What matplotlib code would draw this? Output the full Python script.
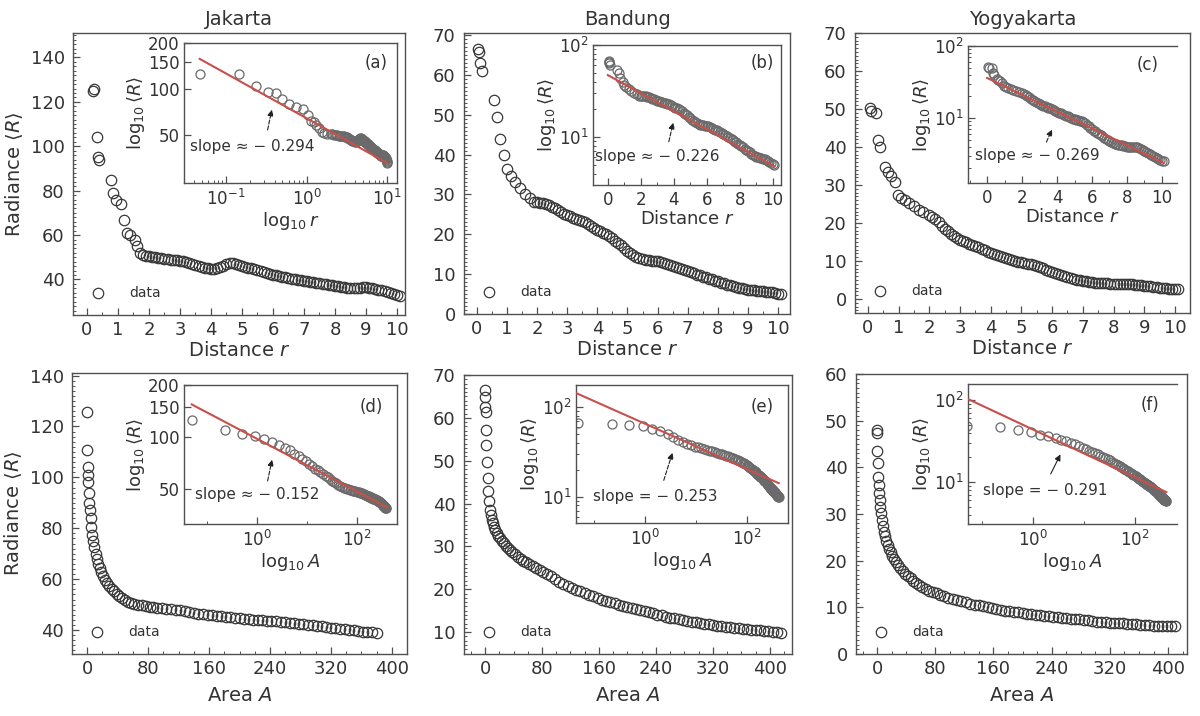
import numpy as np
import matplotlib
matplotlib.use("Agg")
import matplotlib.pyplot as plt
from matplotlib.ticker import (AutoMinorLocator, FixedLocator, NullLocator,
                               NullFormatter, FormatStrFormatter, LogLocator,
                               LogFormatterSciNotation, MultipleLocator)

W, H = 1200, 716
TXT = '#333333'
EDGE = '#505050'
RED = '#c8504b'

cities = ['Jakarta', 'Bandung', 'Yogyakarta']
letters_top = ['(a)', '(b)', '(c)']
letters_bot = ['(d)', '(e)', '(f)']

# sampling positions beyond r = 2 (same for the three cities)
r_tail = [2.0, 2.1, 2.2, 2.3, 2.4, 2.5, 2.6, 2.7, 2.8, 2.9,
          3.0, 3.1, 3.2, 3.3, 3.4, 3.5, 3.6, 3.7, 3.8, 3.9,
          4.0, 4.1, 4.2, 4.3, 4.4, 4.5, 4.6, 4.7, 4.8, 4.9,
          5.0, 5.1, 5.2, 5.3, 5.4, 5.5, 5.6, 5.7, 5.8, 5.9,
          6.0, 6.1, 6.2, 6.3, 6.4, 6.5, 6.6, 6.7, 6.8, 6.9,
          7.0, 7.1, 7.2, 7.3, 7.4, 7.5, 7.6, 7.7, 7.8, 7.9,
          8.0, 8.1, 8.2, 8.3, 8.4, 8.5, 8.6, 8.7, 8.8, 8.9,
          9.0, 9.1, 9.2, 9.3, 9.4, 9.5, 9.6, 9.7, 9.8, 9.9,
          10.0, 10.1]

# Jakarta, radiance vs distance
r_head_jkt = [0.2, 0.22, 0.31, 0.35, 0.39, 0.77, 0.85, 0.95, 1.09, 1.2,
              1.28, 1.4, 1.55, 1.63, 1.72, 1.82, 1.92]
R_head_jkt = [125, 126, 104, 95, 94, 85, 79, 76, 74, 67,
              61, 60, 58, 55, 52, 51, 50.5]
R_tail_jkt = [50.5, 50.2, 50, 49.8, 49.5, 49.2, 49, 48.9, 48.7, 48.6,
              48.5, 48.3, 48, 47.5, 47, 46.5, 46, 45.5, 45.2, 45,
              44.8, 44.8, 45, 45.4, 46, 46.8, 47.5, 47.4, 47, 46.5,
              46, 45.6, 45.3, 45, 44.6, 44.3, 44, 43.5, 43, 42.6,
              42.2, 41.8, 41.5, 41.2, 41, 40.7, 40.4, 40.1, 39.8, 39.6,
              39.4, 39.2, 39, 38.8, 38.5, 38.2, 38, 37.8, 37.6, 37.4,
              37.2, 37, 36.8, 36.5, 36.3, 36.1, 36, 36, 36.2, 36.4,
              36.5, 36.3, 36, 35.7, 35.4, 35.1, 34.8, 34.4, 34, 33.6,
              33.2, 32.5]
# the log-log inset (a) places the first points at these distances
r_inset_head_jkt = [0.047, 0.145, 0.235, 0.33, 0.42, 0.5, 0.61, 0.74, 0.9, 1.03,
                    1.12, 1.22, 1.32, 1.42, 1.54, 1.66, 1.8]

# Bandung, radiance vs distance
r_head_bdg = [0.04, 0.06, 0.1, 0.16, 0.58, 0.65, 0.76, 0.9, 1.01, 1.13,
              1.26, 1.43, 1.6, 1.76, 1.9]
R_head_bdg = [66.4, 65.8, 63, 61, 53.7, 49.3, 44, 40, 36.5, 34.5,
              33, 31.5, 30, 29, 28.2]
R_tail_bdg = [28, 27.9, 27.8, 27.6, 27.3, 26.9, 26.5, 26.0, 25.6, 25.2,
              24.9, 24.5, 24.2, 23.9, 23.6, 23.3, 23, 22.6, 22.2, 21.7,
              21.1, 20.8, 20.4, 20.0, 19.5, 19.0, 18.4, 17.8, 17.2, 16.5,
              15.9, 15.3, 14.8, 14.4, 14, 13.8, 13.6, 13.5, 13.4, 13.3,
              13.2, 13.0, 12.8, 12.5, 12.3, 12.0, 11.8, 11.5, 11.2, 11.0,
              10.7, 10.5, 10.2, 9.9, 9.7, 9.4, 9.2, 8.9, 8.7, 8.4,
              8.2, 7.9, 7.7, 7.4, 7.2, 7.0, 6.8, 6.6, 6.4, 6.2,
              6.1, 6.0, 5.9, 5.85, 5.8, 5.7, 5.6, 5.5, 5.4, 5.25,
              5.1, 5.0]

# Yogyakarta, radiance vs distance
r_head_ygy = [0.07, 0.09, 0.26, 0.33, 0.38, 0.55, 0.65, 0.76, 0.87, 0.98,
              1.09, 1.2, 1.35, 1.5, 1.65, 1.8]
R_head_ygy = [50.3, 49.5, 49, 41.8, 40, 34.8, 33.5, 32.3, 30.7, 27.4,
              26.6, 26, 25.3, 24.5, 23.5, 22.8]
R_tail_ygy = [22, 21.5, 21, 20.2, 19.3, 18.5, 17.8, 17.1, 16.5, 16.0,
              15.6, 15.2, 14.9, 14.5, 14.2, 13.9, 13.6, 13.2, 12.8, 12.4,
              12.1, 11.8, 11.6, 11.3, 11.1, 10.8, 10.6, 10.3, 10.1, 9.8,
              9.6, 9.4, 9.3, 9.2, 9.0, 8.8, 8.5, 8.1, 7.7, 7.3,
              7.0, 6.7, 6.5, 6.2, 6.0, 5.8, 5.6, 5.3, 5.1, 4.9,
              4.8, 4.6, 4.5, 4.4, 4.3, 4.25, 4.2, 4.15, 4.1, 4.05,
              4.0, 4.0, 4.0, 4.0, 4.0, 3.95, 3.9, 3.8, 3.7, 3.6,
              3.5, 3.4, 3.3, 3.2, 3.1, 3.0, 2.9, 2.8, 2.7, 2.6,
              2.5, 2.5]

# area sampling positions (same for the three cities)
A_grid = [0.05, 0.23, 0.5, 0.9, 1.4, 2.0, 2.8, 3.6, 4.5, 5.6,
          6.8, 8.0, 9.5, 11, 12.6, 14.5, 16.5, 18.6, 21, 23.5,
          26, 29, 32, 35, 38.5, 42,
          46, 50, 54, 58, 62, 67, 72, 77, 82, 87, 92,
          98, 104, 110, 116, 122, 128, 134, 140, 146, 152,
          158, 164, 170, 176, 182, 188, 194, 200, 206, 212,
          218, 224, 230, 236, 242, 248, 254, 260, 266, 272,
          278, 284, 290, 296, 302, 308, 314, 320, 326, 332,
          338, 344, 350, 356, 362, 368, 374, 380, 386, 392,
          398, 404, 410, 415]

R_area_jkt = [125.6, 110.6, 104, 101, 98, 94, 90, 87, 84, 80.5,
              77.5, 75, 72.5, 70, 68, 66, 64.3, 62.8, 61.2, 59.8,
              58.6, 57.3, 56.2, 55.2, 54.2, 53.3,
              52.5, 51.8, 51.2, 50.7, 50.3, 50.0, 49.7, 49.4, 49.1, 48.9, 48.7,
              48.5, 48.3, 48.1, 47.9, 47.7, 47.4, 47.1, 46.8, 46.5, 46.2,
              46.0, 45.8, 45.6, 45.4, 45.2, 45.0, 44.8, 44.6, 44.5, 44.3,
              44.1, 44.0, 43.8, 43.7, 43.5, 43.4, 43.2, 43.0, 42.9, 42.7,
              42.5, 42.3, 42.1, 41.9, 41.7, 41.5, 41.2, 41.0, 40.7, 40.5,
              40.3, 40.1, 39.9, 39.6, 39.4, 39.2, 39.1, 39.0]

R_area_bdg = [66.5, 64.9, 62.6, 61.4, 57.1, 53.6, 49.7, 46, 43, 40.5,
              38.5, 37.3, 36.2, 35.4, 34.6, 33.8, 33.1, 32.5, 31.9, 31.3,
              30.8, 30.2, 29.7, 29.2, 28.7, 28.2,
              27.6, 27.1, 26.7, 26.3, 25.9, 25.4, 24.9, 24.5, 24.0, 23.6, 23.2,
              22.3, 21.8, 21.3, 20.8, 20.3, 19.9, 19.5, 19.1, 18.7, 18.4,
              18.0, 17.6, 17.3, 17.0, 16.7, 16.4, 16.1, 15.9, 15.6, 15.4,
              15.1, 14.9, 14.6, 14.4, 14.1, 13.9, 13.6, 13.4, 13.2, 13.0,
              12.8, 12.6, 12.4, 12.3, 12.1, 11.9, 11.8, 11.7, 11.5, 11.4,
              11.3, 11.2, 11.0, 10.9, 10.8, 10.7, 10.6, 10.5, 10.4, 10.3,
              10.2, 10.1, 10.0, 9.9]

R_area_ygy = [48, 47.3, 43.4, 40.9, 38, 36.2, 34.5, 33, 31.6, 30.2,
              28.8, 27.4, 26.2, 25.2, 24.3, 23.4, 22.6, 21.8, 21.0, 20.3,
              19.7, 19.0, 18.4, 17.8, 17.2, 16.7,
              16.2, 15.7, 15.2, 14.8, 14.4, 14.0, 13.6, 13.3, 13.0, 12.7, 12.4,
              12.1, 11.8, 11.6, 11.3, 11.1, 10.8, 10.6, 10.4, 10.2, 10.0,
              9.8, 9.6, 9.45, 9.3, 9.15, 9.0, 8.9, 8.8, 8.65, 8.55,
              8.45, 8.3, 8.2, 8.1, 8.0, 7.9, 7.8, 7.7, 7.6, 7.5,
              7.4, 7.3, 7.2, 7.05, 6.95, 6.9, 6.8, 6.75, 6.7, 6.6,
              6.55, 6.5, 6.4, 6.35, 6.3, 6.2, 6.15, 6.1, 6.05, 6.0,
              6.0, 5.95, 5.9]

# fitted slopes and prefactors shown in the insets
slope_r = [-0.294, -0.226, -0.269]
pref_r = [64, 47, 36]
slope_A = [-0.152, -0.253, -0.291]
pref_A = [98, 65, 43.8]

r_dist = [r_head_jkt + r_tail, r_head_bdg + r_tail, r_head_ygy + r_tail]
R_dist = [R_head_jkt + R_tail_jkt, R_head_bdg + R_tail_bdg, R_head_ygy + R_tail_ygy]
r_inset = [r_inset_head_jkt + r_tail, r_dist[1], r_dist[2]]
R_area = [R_area_jkt, R_area_bdg, R_area_ygy]

plt.rcParams.update({
    'font.family': ['DejaVu Sans'],
    'text.color': TXT,
    'axes.labelcolor': TXT,
    'axes.edgecolor': EDGE,
    'xtick.color': EDGE,
    'ytick.color': EDGE,
    'xtick.labelcolor': TXT,
    'ytick.labelcolor': TXT,
    'axes.linewidth': 1.0,
})

fig = plt.figure(figsize=(W / 100, H / 100), dpi=100)


def box(l, t, r, b):
    return [l / W, 1 - b / H, (r - l) / W, (b - t) / H]


def style(ax, size, ypad=3):
    ax.tick_params(which='both', direction='in', labelsize=size)
    ax.tick_params(axis='x', which='both', pad=4)
    ax.tick_params(axis='y', which='both', pad=ypad)
    ax.tick_params(which='major', length=5, width=0.9)
    ax.tick_params(which='minor', length=2.5, width=0.7)


main_kw = dict(ls='none', marker='o', ms=7.5, mfc='none', mec='#383838', mew=0.9)
ins_kw = dict(ls='none', marker='o', ms=6.5, mfc='none', mec='#6a6a6a', mew=0.9)
leg_kw = dict(loc='lower left', frameon=False, fontsize=10, handlelength=1.5,
              handletextpad=1.5, borderaxespad=0.5, borderpad=0.55)

# ---------------- top row: radiance vs distance ----------------
main_top = [(73, 33, 405, 315), (464, 33, 790, 314), (855, 33, 1190, 313)]
xlim_top = [(-0.45, 10.26), (-0.43, 10.4), (-0.42, 10.49)]
ylim_top = [(24, 151), (0, 70.5), (-3.7, 70)]
ytick_top = [range(40, 141, 20), range(0, 71, 10), range(0, 71, 10)]

ins_top = [(184, 43, 397, 183), (593, 45, 781, 185), (968, 46, 1177, 183)]
ixlim_top = [(0.03, 13.3), (-0.9, 10.5), (-1.09, 10.86)]
iylim_top = [(24, 200), (3.0, 100), (1.25, 100)]
fit_x_top = [(0.047, 10.0), (0.0, 10.1), (0.0, 10.1)]
txt_top = [(0.03, 0.26), (0.01, 0.2), (0.035, 0.2)]
head_top = [(0.376, 76), (4.0, 15.3), (3.77, 7.5)]
tail_top = [(0.39, 0.36), (0.40, 0.29), (0.37, 0.28)]
let_top = [(0.9, 0.86), (0.9, 0.87), (0.86, 0.86)]

for i in range(3):
    ax = fig.add_axes(box(*main_top[i]))
    ax.plot(r_dist[i], R_dist[i], label='data', **main_kw)
    ax.set_xlim(*xlim_top[i])
    ax.set_ylim(*ylim_top[i])
    ax.set_xticks(range(0, 11))
    ax.set_yticks(list(ytick_top[i]))
    ax.xaxis.set_minor_locator(AutoMinorLocator(2))
    ax.yaxis.set_minor_locator(AutoMinorLocator(10))
    style(ax, 13, ypad=6)
    ax.set_xlabel('Distance $r$', fontsize=14, labelpad=2)
    if i == 0:
        ax.set_ylabel(r'Radiance $\langle R\rangle$', fontsize=14)
    ax.set_title(cities[i], fontsize=14, pad=6)
    ax.legend(**leg_kw)

    ia = fig.add_axes(box(*ins_top[i]))
    x0, x1 = fit_x_top[i]
    ia.set_yscale('log')
    ia.plot(r_inset[i], R_dist[i], **ins_kw)
    if i == 0:
        ia.set_xscale('log')
        ia.plot([x0, x1], [pref_r[i] * x0 ** slope_r[i], pref_r[i] * x1 ** slope_r[i]],
                color=RED, lw=1.5, zorder=3)
        ia.yaxis.set_major_locator(FixedLocator([50, 100, 150, 200]))
        ia.yaxis.set_major_formatter(FormatStrFormatter('%d'))
        ia.yaxis.set_minor_locator(NullLocator())
        ia.set_xlabel(r'$\log_{10}r$', fontsize=13, labelpad=1)
    else:
        ia.plot([x0, x1], [pref_r[i] * np.exp(slope_r[i] * x0), pref_r[i] * np.exp(slope_r[i] * x1)],
                color=RED, lw=1.5, zorder=3)
        ia.set_xticks(range(0, 11, 2))
        ia.xaxis.set_minor_locator(MultipleLocator(1))
        ia.yaxis.set_minor_formatter(NullFormatter())
        ia.set_xlabel('Distance $r$', fontsize=13, labelpad=1)
    ia.set_xlim(*ixlim_top[i])
    ia.set_ylim(*iylim_top[i])
    style(ia, 12)
    ia.set_ylabel(r'$\log_{10}\langle R\rangle$', fontsize=13, labelpad=1)
    if i == 2:
        ia.spines['right'].set_visible(False)
    ia.text(*txt_top[i], 'slope ≈ − %.3f' % (-slope_r[i]), transform=ia.transAxes,
            fontsize=11, ha='left', va='center')
    ia.annotate('', xy=head_top[i], xycoords='data', xytext=tail_top[i], textcoords='axes fraction',
                arrowprops=dict(arrowstyle='-|>', ls='--', lw=0.8, color='#222222', mutation_scale=9))
    ia.text(*let_top[i], letters_top[i], transform=ia.transAxes, fontsize=12,
            ha='center', va='center')

# ---------------- bottom row: radiance vs area ----------------
main_bot = [(72, 373, 407, 654), (464, 375, 792, 654), (856, 374, 1187, 654)]
xlim_bot = [(-20, 420), (-29.5, 431), (-29, 426)]
ylim_bot = [(30.6, 141), (4.9, 70), (0, 60)]
ytick_bot = [range(40, 141, 20), range(10, 71, 10), range(0, 61, 10)]

ins_bot = [(184, 385, 397, 524), (576, 385, 788, 523), (968, 384, 1177, 524)]
ixlim_bot = [(0.035, 630), (0.045, 630), (0.053, 670)]
iylim_bot = [(31.6, 200), (5.1, 175), (3.1, 157)]
fit_x_bot = [(0.05, 400), (0.045, 415), (0.053, 415)]
txt_bot = [(0.05, 0.21), (0.08, 0.19), (0.07, 0.24)]
head_bot = [(2.06, 77), (3.6, 33), (3.65, 23.4)]
tail_bot = [(0.39, 0.29), (0.41, 0.29), (0.39, 0.34)]
let_bot = [(0.88, 0.84), (0.88, 0.84), (0.87, 0.85)]
sign_bot = ['≈', '=', '=']
arrow_ls = ['--', '--', '-']

for i in range(3):
    A_vals = A_grid[:len(R_area[i])]
    ax = fig.add_axes(box(*main_bot[i]))
    ax.plot(A_vals, R_area[i], label='data', **main_kw)
    ax.set_xlim(*xlim_bot[i])
    ax.set_ylim(*ylim_bot[i])
    ax.set_xticks(range(0, 401, 80))
    ax.set_yticks(list(ytick_bot[i]))
    ax.xaxis.set_minor_locator(AutoMinorLocator(4))
    ax.yaxis.set_minor_locator(AutoMinorLocator(10))
    style(ax, 13, ypad=6)
    ax.set_xlabel('Area $A$', fontsize=14, labelpad=6)
    if i == 0:
        ax.set_ylabel(r'Radiance $\langle R\rangle$', fontsize=14)
    ax.legend(**leg_kw)

    ia = fig.add_axes(box(*ins_bot[i]))
    ia.set_xscale('log')
    ia.set_yscale('log')
    ia.plot(A_vals, R_area[i], **ins_kw)
    x0, x1 = fit_x_bot[i]
    ia.plot([x0, x1], [pref_A[i] * x0 ** slope_A[i], pref_A[i] * x1 ** slope_A[i]],
            color=RED, lw=1.5, zorder=3)
    ia.set_xlim(*ixlim_bot[i])
    ia.set_ylim(*iylim_bot[i])
    ia.xaxis.set_major_locator(FixedLocator([1, 100]))
    ia.xaxis.set_major_formatter(LogFormatterSciNotation())
    ia.xaxis.set_minor_locator(LogLocator(base=10, subs=(1.0,), numticks=20))
    ia.xaxis.set_minor_formatter(NullFormatter())
    if i == 0:
        ia.yaxis.set_major_locator(FixedLocator([50, 100, 150, 200]))
        ia.yaxis.set_major_formatter(FormatStrFormatter('%d'))
        ia.yaxis.set_minor_locator(NullLocator())
    else:
        ia.yaxis.set_minor_formatter(NullFormatter())
    style(ia, 12)
    ia.set_xlabel(r'$\log_{10}A$', fontsize=13, labelpad=1)
    ia.set_ylabel(r'$\log_{10}\langle R\rangle$', fontsize=13, labelpad=1)
    if i == 2:
        ia.spines['right'].set_visible(False)
    ia.text(*txt_bot[i], 'slope %s − %.3f' % (sign_bot[i], -slope_A[i]), transform=ia.transAxes,
            fontsize=11, ha='left', va='center')
    ia.annotate('', xy=head_bot[i], xycoords='data', xytext=tail_bot[i], textcoords='axes fraction',
                arrowprops=dict(arrowstyle='-|>', ls=arrow_ls[i], lw=0.8, color='#222222',
                                mutation_scale=9))
    ia.text(*let_bot[i], letters_bot[i], transform=ia.transAxes, fontsize=12,
            ha='center', va='center')

fig.savefig('out.png', dpi=100)
